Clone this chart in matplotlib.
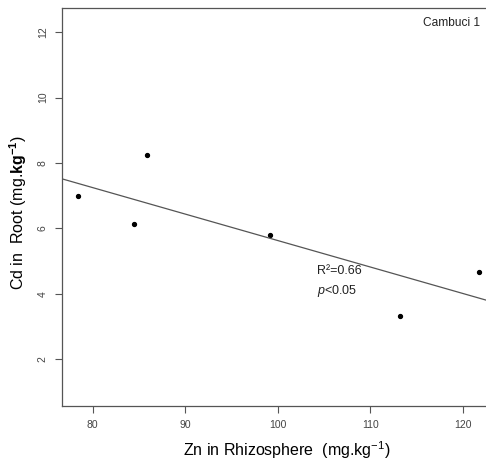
import numpy as np
import matplotlib
matplotlib.use('Agg')
import matplotlib.pyplot as plt

plt.rcParams['font.family'] = ['Liberation Sans', 'DejaVu Sans']
plt.rcParams['mathtext.fontset'] = 'custom'
plt.rcParams['mathtext.rm'] = 'Liberation Sans'
plt.rcParams['mathtext.it'] = 'Liberation Sans:italic'
plt.rcParams['mathtext.bf'] = 'Liberation Sans:bold'

# Zn in rhizosphere vs Cd in root
zn = [78.4, 84.5, 85.9, 99.2, 113.2, 121.8]
cd = [6.98, 6.14, 8.26, 5.80, 3.33, 4.66]
xticks = [80, 90, 100, 110, 120]
yticks = [2, 4, 6, 8, 10, 12]

fig = plt.figure(figsize=(4.86, 4.61), dpi=100)
ax = fig.add_axes([0.127, 0.119, 1.01 - 0.127, 0.982 - 0.119])

gray = '#555555'
ax.plot(zn, cd, 'o', color='black', ms=2.8)

# least squares line
b, a = np.polyfit(zn, cd, 1)
xl = np.array([70, 130])
ax.plot(xl, a + b * xl, color='#555555', lw=0.9)

ax.set_xlim(76.65, 123.06)
ax.set_ylim(0.57, 12.73)
ax.set_xticks(xticks)
ax.set_yticks(yticks)
ax.set_yticklabels([str(t) for t in yticks], rotation=90, va='center')
ax.tick_params(direction='out', length=5, width=0.8, colors=gray,
               labelsize=7.5, labelcolor='#444444', pad=5)
for s in ax.spines.values():
    s.set_color(gray)
    s.set_linewidth(0.9)

ax.text(104.3, 4.6, 'R²=0.66', fontsize=9, color='#222222')
ax.text(104.3, 4.0, r'$p$<0.05', fontsize=9, color='#222222')
fig.text(480 / 486, 1 - 23 / 461, 'Cambuci 1', fontsize=8.6,
         ha='right', va='center', color='#222222')

fig.text(287 / 486, 1 - 450 / 461, r'Zn in Rhizosphere  (mg.kg$^{-1}$)',
         ha='center', va='center', fontsize=11.5)
fig.text(18 / 486, 1 - 213 / 461, r'Cd in  Root (mg.$\mathbf{kg}^{\mathbf{-1}}$)',
         ha='center', va='center', rotation=90, fontsize=11.5)

fig.savefig('out.png', dpi=100)
